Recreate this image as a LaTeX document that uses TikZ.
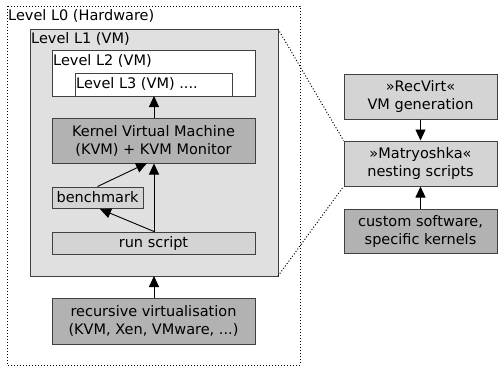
\documentclass[tikz,border=0pt]{standalone}
\usepackage{fontspec}
\setmainfont{DejaVu Sans}
\usetikzlibrary{arrows.meta}
\begin{document}
\begin{tikzpicture}[x=1pt,y=-1pt,
  every node/.style={font=\fontsize{14.5}{18}\selectfont},
  frame/.style={draw=black!75, line width=1pt},
  box/.style={frame, align=center, inner sep=0pt},
  darkbox/.style={box, fill=black!30},
  lightbox/.style={box, fill=black!17},
  lbl/.style={anchor=base west, inner sep=0pt},
  arr/.style={line width=0.9pt, -{Triangle[length=11pt,width=10pt]}},
  link/.style={dotted, line width=1pt}]
\useasboundingbox (0,0) rectangle (498,367);

% Level L0: hardware frame
\draw[link] (7,6) rectangle (300,365);
\node[lbl] (l0lbl) at (8,20) {Level L0 (Hardware)};

% Level L1 VM
\draw[frame, fill=black!12] (30,29) coordinate (l1nw) rectangle (278,276) coordinate (l1se);
\coordinate (l1ne) at (278,29);
\coordinate (l1s) at (154,276);
\node[lbl] (l1lbl) at (31,43) {Level L1 (VM)};

% Level L2 and L3 VMs
\draw[frame, fill=white] (52,50) rectangle (255,96);
\node[lbl] (l2lbl) at (53,65) {Level L2 (VM)};
\draw[frame, fill=white] (75,73) rectangle (232,96);
\node[lbl] (l3lbl) at (76,88) {Level L3 (VM) ....};
\coordinate (l2s) at (154,96);

% contents of L1
\node[darkbox, minimum width=203pt, minimum height=45pt] (kvm) at (153.5,140.5)
  {Kernel Virtual Machine\\(KVM) + KVM Monitor};
\node[lightbox, minimum width=91pt, minimum height=21pt] (bench) at (97.5,197.5) {benchmark};
\node[lightbox, minimum width=203pt, minimum height=22pt] (run) at (153.5,243) {run script};

% host virtualisation
\node[darkbox, minimum width=203pt, minimum height=46pt] (rec) at (153.5,321)
  {recursive virtualisation\\(KVM, Xen, VMware, ...)};

% tool chain
\node[lightbox, minimum width=153pt, minimum height=45pt] (recvirt) at (420.5,96.5)
  {»RecVirt«\\VM generation};
\node[lightbox, minimum width=153pt, minimum height=45pt] (matr) at (420.5,163.5)
  {»Matryoshka«\\nesting scripts};
\node[darkbox, minimum width=153pt, minimum height=44pt] (cust) at (420.5,231)
  {custom software,\\specific kernels};

% arrows
\draw[arr] (kvm.north -| l2s) -- (l2s);
\draw[arr] (run.north -| l2s) -- (kvm.south -| l2s);
\draw[arr] (bench.north) -- (147,163);
\draw[arr] (run.north -| l2s) -- (100,209);
\draw[arr] (rec.north -| l1s) -- (l1s);
\draw[arr] (recvirt) -- (matr);
\draw[arr] (cust) -- (matr);

% zoom lines
\draw[link] (l1ne) -- (matr.north west);
\draw[link] (l1se) -- (matr.south west);
\end{tikzpicture}
\end{document}
